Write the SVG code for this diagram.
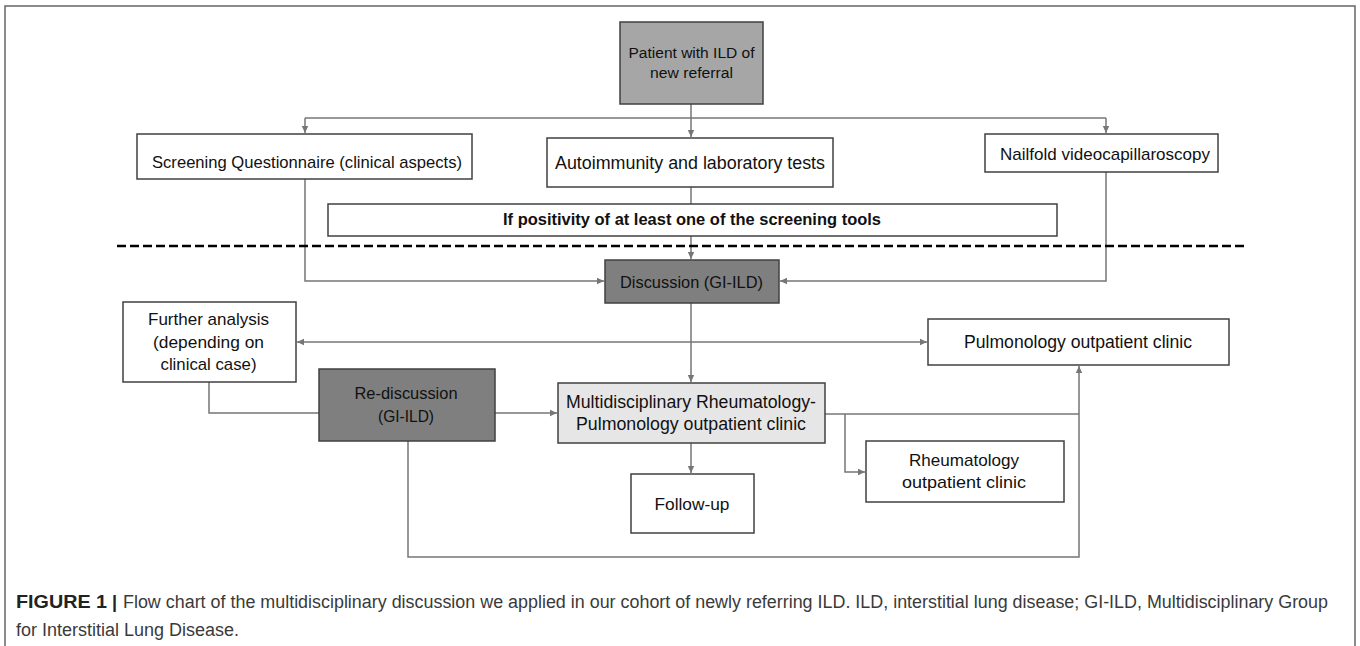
<svg xmlns="http://www.w3.org/2000/svg" width="1360" height="646" viewBox="0 0 1360 646">
<defs>
<style>
.box{stroke:#404040;stroke-width:1.5;fill:#ffffff}
.g1{fill:#a6a6a6}
.g2{fill:#7f7f7f}
.g3{fill:#e7e6e6}
.t{font-family:"Liberation Sans",Arial,sans-serif;fill:#111;text-anchor:middle}
.c{stroke:#767676;stroke-width:1.5;fill:none}
.a{marker-end:url(#ah)}
.cap{font-family:"Liberation Sans",Arial,sans-serif;font-size:18px;fill:#3a3a3a}
.capb{font-family:"Liberation Sans",Arial,sans-serif;font-size:18px;font-weight:bold;fill:#222}
</style>
<marker id="ah" markerWidth="8" markerHeight="8" refX="7" refY="4" orient="auto-start-reverse" markerUnits="userSpaceOnUse">
<path d="M0,0.8 L7,4 L0,7.2 Z" fill="#767676"/>
</marker>
</defs>
<rect width="1360" height="646" fill="#ffffff"/>
<path d="M5,646 V6 H1355 V646" fill="none" stroke="#666" stroke-width="1.5"/>

<g id="connectors">
<path class="c a" d="M691,104 V137"/>
<path class="c" d="M305,118 H1106"/>
<path class="c a" d="M305,118 V133"/>
<path class="c a" d="M1106,118 V133"/>
<path class="c" d="M691,187 V204"/>
<path class="c a" d="M691,236 V259"/>
<path class="c a" d="M305,179 V281 H604"/>
<path class="c a" d="M1106,172 V281 H780"/>
<path class="c a" d="M691,303 V382"/>
<path class="c" d="M297,342 H927" marker-start="url(#ah)" marker-end="url(#ah)"/>
<path class="c" d="M209,382 V413 H319"/>
<path class="c a" d="M495,413 H557"/>
<path class="c a" d="M691,443 V473"/>
<path class="c" d="M825,414 H1079"/>
<path class="c a" d="M845,414 V472 H865"/>
<path class="c a" d="M408,441 V557 H1079 V366"/>
<path d="M117,246 H1247" stroke="#000" stroke-width="2.5" stroke-dasharray="9 4" fill="none"/>
</g>

<g id="patient">
<rect class="box g1" x="620" y="22" width="143" height="82"/>
<text class="t" x="691.5" y="57.5" font-size="15.5" textLength="126" lengthAdjust="spacingAndGlyphs">Patient with ILD of</text>
<text class="t" x="691.5" y="77.5" font-size="15.5" textLength="83" lengthAdjust="spacingAndGlyphs">new referral</text>
</g>

<g id="screening">
<rect class="box" x="137" y="134" width="335" height="45"/>
<text class="t" x="307" y="168" font-size="17" textLength="310" lengthAdjust="spacingAndGlyphs">Screening Questionnaire (clinical aspects)</text>
</g>

<g id="autoimmunity">
<rect class="box" x="547" y="138" width="286" height="49"/>
<text class="t" x="690" y="169" font-size="17.5" textLength="270" lengthAdjust="spacingAndGlyphs">Autoimmunity and laboratory tests</text>
</g>

<g id="nailfold">
<rect class="box" x="985" y="134" width="233" height="38"/>
<text class="t" x="1105" y="160" font-size="17" textLength="210" lengthAdjust="spacingAndGlyphs">Nailfold videocapillaroscopy</text>
</g>

<g id="positivity">
<rect class="box" x="328" y="204" width="729" height="32"/>
<text class="t" x="692" y="225" font-size="16.5" font-weight="bold" textLength="378" lengthAdjust="spacingAndGlyphs">If positivity of at least one of the screening tools</text>
</g>

<g id="discussion">
<rect class="box g2" x="605" y="260" width="174" height="43"/>
<text class="t" x="691.5" y="288" font-size="16.5" textLength="143" lengthAdjust="spacingAndGlyphs">Discussion (GI-ILD)</text>
</g>

<g id="further">
<rect class="box" x="123" y="302" width="173" height="80"/>
<text class="t" x="208.5" y="325" font-size="17" textLength="121" lengthAdjust="spacingAndGlyphs">Further analysis</text>
<text class="t" x="208.5" y="348" font-size="17" textLength="111" lengthAdjust="spacingAndGlyphs">(depending on</text>
<text class="t" x="208.5" y="370" font-size="17" textLength="96" lengthAdjust="spacingAndGlyphs">clinical case)</text>
</g>

<g id="pulmonology">
<rect class="box" x="928" y="319" width="301" height="46"/>
<text class="t" x="1078" y="348" font-size="17.5" textLength="228" lengthAdjust="spacingAndGlyphs">Pulmonology outpatient clinic</text>
</g>

<g id="rediscussion">
<rect class="box g2" x="319" y="369" width="176" height="72"/>
<text class="t" x="406" y="399" font-size="16.5" textLength="103" lengthAdjust="spacingAndGlyphs">Re-discussion</text>
<text class="t" x="406" y="422" font-size="16.5" textLength="56" lengthAdjust="spacingAndGlyphs">(GI-ILD)</text>
</g>

<g id="multidisciplinary">
<rect class="box g3" x="558" y="383" width="267" height="60"/>
<text class="t" x="691" y="408" font-size="17.5" textLength="250" lengthAdjust="spacingAndGlyphs">Multidisciplinary Rheumatology-</text>
<text class="t" x="691" y="430" font-size="17.5" textLength="230" lengthAdjust="spacingAndGlyphs">Pulmonology outpatient clinic</text>
</g>

<g id="rheumatology">
<rect class="box" x="866" y="441" width="198" height="61"/>
<text class="t" x="964" y="466" font-size="17" textLength="110" lengthAdjust="spacingAndGlyphs">Rheumatology</text>
<text class="t" x="964" y="488" font-size="17" textLength="124" lengthAdjust="spacingAndGlyphs">outpatient clinic</text>
</g>

<g id="followup">
<rect class="box" x="631" y="474" width="123" height="59"/>
<text class="t" x="692" y="510" font-size="17" textLength="75" lengthAdjust="spacingAndGlyphs">Follow-up</text>
</g>

<g id="caption">
<text class="capb" x="16" y="608" textLength="91" lengthAdjust="spacingAndGlyphs">FIGURE 1</text>
<text class="capb" x="112" y="608">|</text>
<text class="cap" x="123" y="608" textLength="1205" lengthAdjust="spacingAndGlyphs">Flow chart of the multidisciplinary discussion we applied in our cohort of newly referring ILD. ILD, interstitial lung disease; GI-ILD, Multidisciplinary Group</text>
<text class="cap" x="16" y="636">for Interstitial Lung Disease.</text>
</g>
</svg>
